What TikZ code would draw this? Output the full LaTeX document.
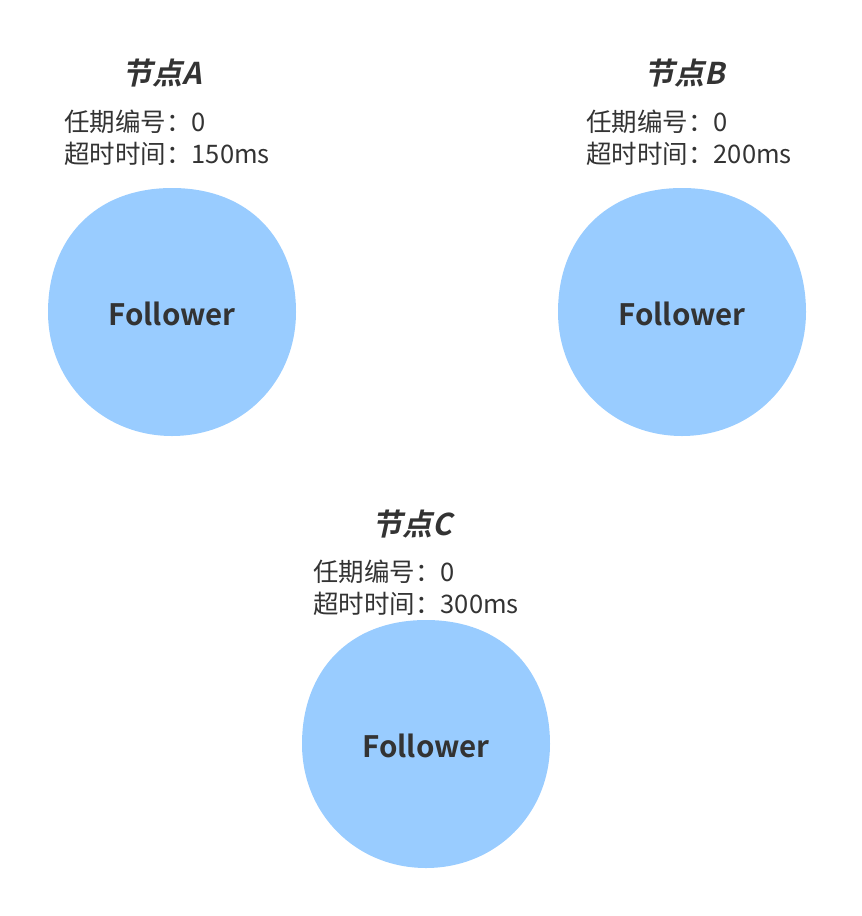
\documentclass[tikz,border=0pt]{standalone}
\usepackage{fontspec}
\setmainfont{Noto Sans CJK SC}
\newfontfamily\titlefont[FakeSlant=0.22]{Noto Sans CJK SC Bold}
\newfontfamily\boldfont{Noto Sans CJK SC Bold}
\definecolor{txt}{HTML}{333333}
\definecolor{blob}{HTML}{99CCFF}
\tikzset{
  titlelbl/.style={font=\titlefont\fontsize{30}{34}\selectfont, text=txt, inner sep=0pt},
  infolbl/.style={font=\fontsize{25.5}{32}\selectfont, text=txt, inner sep=0pt, align=left, anchor=north west},
  rolelbl/.style={font=\boldfont\fontsize{29.5}{32}\selectfont, text=txt, inner sep=0pt},
}
\newcommand{\blobshape}[2]{%
  \fill[blob] (#1+0,#2-124) .. controls (#1+78,#2-124) and (#1+124,#2-72) .. (#1+124,#2+0)
    .. controls (#1+124,#2+70) and (#1+70,#2+124) .. (#1+0,#2+124)
    .. controls (#1-70,#2+124) and (#1-124,#2+70) .. (#1-124,#2+0)
    .. controls (#1-124,#2-72) and (#1-78,#2-124) .. (#1+0,#2-124) -- cycle;}
\begin{document}
\begin{tikzpicture}[x=1pt,y=-1pt]
\useasboundingbox (0,0) rectangle (862,916);
% Node A
\blobshape{172}{312}
\node[titlelbl] (tA) at (162,73) {节点A};
\node[infolbl] (iA) at (64,110) {任期编号：0\\超时时间：150ms};
\node[rolelbl] (rA) at (172,314) {Follower};
% Node B
\blobshape{682}{312}
\node[titlelbl] (tB) at (685,73) {节点B};
\node[infolbl] (iB) at (586,110) {任期编号：0\\超时时间：200ms};
\node[rolelbl] (rB) at (682,314) {Follower};
% Node C
\blobshape{426}{744}
\node[titlelbl] (tC) at (412,524) {节点C};
\node[infolbl] (iC) at (313,560) {任期编号：0\\超时时间：300ms};
\node[rolelbl] (rC) at (426,746) {Follower};
\end{tikzpicture}
\end{document}
